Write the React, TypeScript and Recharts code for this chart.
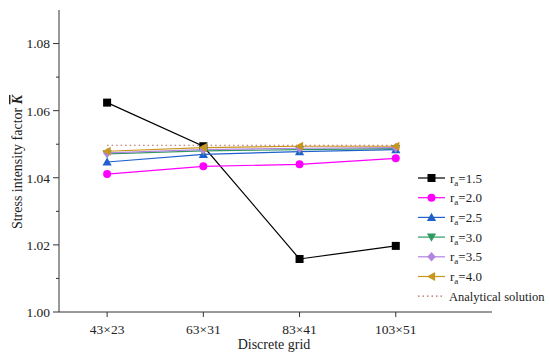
import { LineChart, Line, XAxis, YAxis, Legend } from "recharts";

const categories = ["43×23", "63×31", "83×41", "103×51"];
const xPos = [1, 2, 3, 4];

const ra15 = [1.0624, 1.0494, 1.0158, 1.0197];
const ra20 = [1.0411, 1.0434, 1.044, 1.0458];
const ra25 = [1.0447, 1.047, 1.0478, 1.0484];
const ra30 = [1.0471, 1.048, 1.0484, 1.0487];
const ra35 = [1.0474, 1.0484, 1.0488, 1.049];
const ra40 = [1.0479, 1.049, 1.0494, 1.0494];
const analytical = [1.0497, 1.0497, 1.0497, 1.0497];

const yTicks = [1.0, 1.01, 1.02, 1.03, 1.04, 1.05, 1.06, 1.07, 1.08];

const data = categories.map((c, i) => ({
  x: xPos[i],
  name: c,
  s15: ra15[i],
  s20: ra20[i],
  s25: ra25[i],
  s30: ra30[i],
  s35: ra35[i],
  s40: ra40[i],
  ana: analytical[i],
}));

const series = [
  { key: "s15", label: "1.5", color: "#000000", shape: "square" },
  { key: "s20", label: "2.0", color: "#ff00ff", shape: "circle" },
  { key: "s25", label: "2.5", color: "#2060cc", shape: "up" },
  { key: "s30", label: "3.0", color: "#2e9a60", shape: "down" },
  { key: "s35", label: "3.5", color: "#b383e0", shape: "diamond" },
  { key: "s40", label: "4.0", color: "#c8961e", shape: "left" },
];

const FONT = "'Liberation Serif', 'Times New Roman', serif";

function marker(shape: string, color: string, cx: number, cy: number, key?: any) {
  const s = 4;
  switch (shape) {
    case "square":
      return <rect key={key} x={cx - s} y={cy - s} width={2 * s} height={2 * s} fill={color} />;
    case "circle":
      return <circle key={key} cx={cx} cy={cy} r={s} fill={color} />;
    case "up":
      return <polygon key={key} points={`${cx},${cy - 4.6} ${cx - 4.6},${cy + 3.6} ${cx + 4.6},${cy + 3.6}`} fill={color} />;
    case "down":
      return <polygon key={key} points={`${cx},${cy + 4.6} ${cx - 4.6},${cy - 3.6} ${cx + 4.6},${cy - 3.6}`} fill={color} />;
    case "diamond":
      return <polygon key={key} points={`${cx},${cy - 4.8} ${cx + 4.2},${cy} ${cx},${cy + 4.8} ${cx - 4.2},${cy}`} fill={color} />;
    default:
      return <polygon key={key} points={`${cx - 4.6},${cy} ${cx + 3.6},${cy - 4.6} ${cx + 3.6},${cy + 4.6}`} fill={color} />;
  }
}

const YTick = (props: any) => {
  const { x, y, payload } = props;
  const v = payload.value;
  const major = Math.round(v * 100) % 2 === 0;
  const ax = x + 8;
  return (
    <g>
      <line x1={ax} x2={ax - (major ? 6 : 3)} y1={y} y2={y} stroke="#333" strokeWidth={1} />
      {major && (
        <text x={ax - 9} y={y} dy="0.36em" textAnchor="end" fontSize={13.5} fontFamily={FONT} fill="#222">
          {v.toFixed(2)}
        </text>
      )}
    </g>
  );
};

const YLabel = () => (
  <text
    x={17}
    y={162}
    transform="rotate(-90 17 162)"
    textAnchor="middle"
    dy="0.36em"
    fontSize={14}
    fontFamily={FONT}
    fill="#222"
  >
    Stress intensity factor{" "}
    <tspan fontWeight="bold" fontStyle="italic" style={{ textDecoration: "overline" }}>
      K
    </tspan>
  </text>
);

const XLabel = () => (
  <text x={274} y={349} textAnchor="middle" fontSize={14} fontFamily={FONT} fill="#222">
    Discrete grid
  </text>
);

const LegendBox = () => (
  <svg width={135} height={140} style={{ display: "block" }}>
    {series.map((s, i) => {
      const y = 10 + i * 19.7;
      return (
        <g key={s.key}>
          <line x1={3} x2={30} y1={y} y2={y} stroke={s.color} strokeWidth={1.2} />
          {marker(s.shape, s.color, 16.5, y)}
          <text x={35} y={y} dy="0.36em" fontSize={13} fontFamily={FONT} fill="#222">
            r
            <tspan fontSize={9} dy={3}>a</tspan>
            <tspan dy={-3}>={s.label}</tspan>
          </text>
        </g>
      );
    })}
    <line x1={3} x2={30} y1={128.2} y2={128.2} stroke="#b5655a" strokeWidth={1.2} strokeDasharray="1.5 3" />
    <text x={34} y={128.2} dy="0.36em" fontSize={12.5} fontFamily={FONT} fill="#222">
      Analytical solution
    </text>
  </svg>
);

export default function App() {
  return (
    <div style={{ position: "absolute", left: 0, top: 0, width: 550, height: 358, background: "#fff" }}>
      <LineChart width={550} height={358} data={data} margin={{ top: 10, right: 58, bottom: 16, left: 0 }}>
        <XAxis
          dataKey="x"
          type="number"
          domain={[0.5, 5]}
          ticks={xPos}
          allowDataOverflow
          tickFormatter={(v: number) => categories[xPos.indexOf(v)] ?? ""}
          height={30}
          tickSize={5}
          tickMargin={7}
          stroke="#333"
          tick={{ fontSize: 13.5, fontFamily: FONT, fill: "#222" }}
          label={<XLabel />}
        />
        <YAxis
          type="number"
          domain={[1.0, 1.09]}
          ticks={yTicks}
          allowDataOverflow
          width={59}
          tickSize={6}
          tickMargin={2}
          tickLine={false}
          stroke="#333"
          tick={<YTick />}
          label={<YLabel />}
        />
        <Legend
          layout="horizontal"
          verticalAlign="middle"
          align="center"
          content={<LegendBox />}
          wrapperStyle={{ position: "absolute", left: 415, top: 168, width: 135 }}
        />
        <Line
          dataKey="ana"
          stroke="#b5655a"
          strokeWidth={1.2}
          strokeDasharray="1.5 3"
          dot={false}
          isAnimationActive={false}
        />
        {series.map((s) => (
          <Line
            key={s.key}
            dataKey={s.key}
            type="linear"
            stroke={s.color}
            strokeWidth={1.2}
            dot={(p: any) => marker(s.shape, s.color, p.cx, p.cy, `${s.key}-${p.index}`)}
            activeDot={false}
            isAnimationActive={false}
          />
        ))}
      </LineChart>
    </div>
  );
}
